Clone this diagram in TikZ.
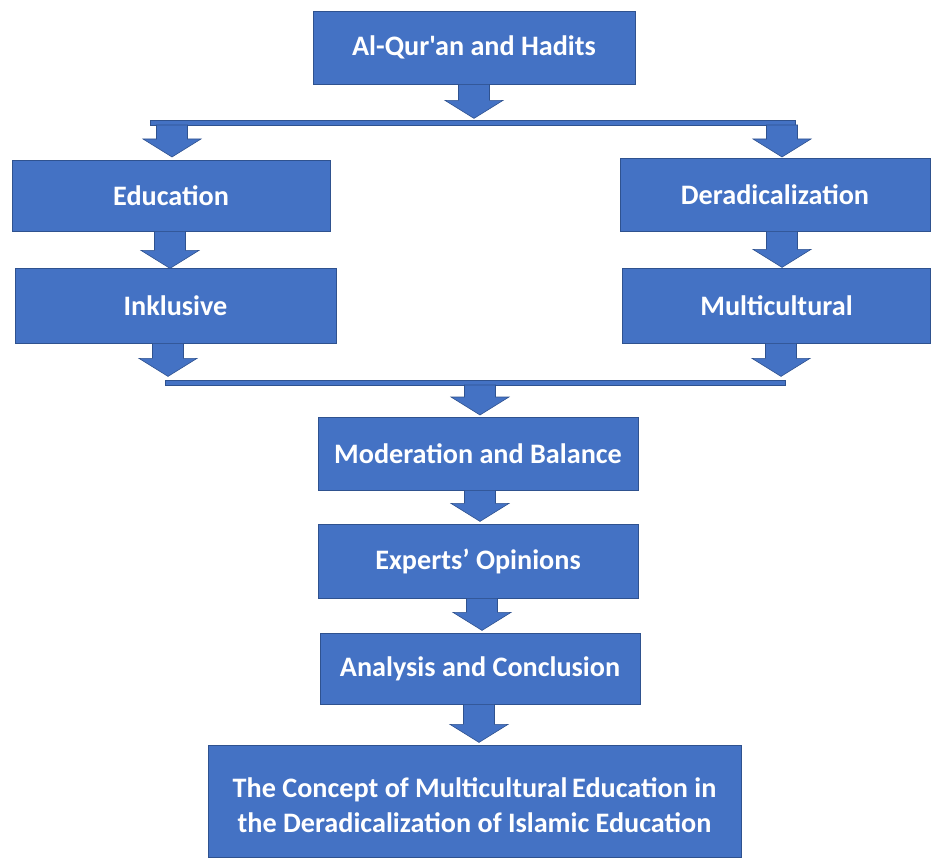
\documentclass[tikz,border=0pt]{standalone}
\usepackage{fontspec}
\setmainfont{Carlito}[Ligatures=TeXOff]
\definecolor{boxblue}{HTML}{4472C4}
\definecolor{edgeblue}{HTML}{2F528F}

% block arrow pointing down: #1 top centre, #2 total length
\newcommand{\blockarrow}[2]{%
  \draw[arrowshape] (#1) ++(-15.5,0) -- ++(0,#2-18) -- ++(-13.5,0)
    -- ++(29,18) -- ++(29,-18) -- ++(-13.5,0) -- ++(0,-#2+18) -- cycle;}

\begin{document}
\begin{tikzpicture}[x=1pt,y=-1pt]
\tikzstyle{every node}=[font=\fontsize{28.2}{35}\selectfont\bfseries]
\tikzstyle{box}=[draw=edgeblue,fill=boxblue,text=white,line width=0.8pt,inner sep=0pt]
\tikzstyle{arrowshape}=[draw=edgeblue,fill=boxblue,line width=0.6pt,line join=miter]
\tikzstyle{busline}=[draw=edgeblue,fill=boxblue,line width=0.6pt]

\useasboundingbox (0,0) rectangle (931,858);

%
% The boxes
%
\node[box,minimum width=322,minimum height=73] (quran) at (474,47.5) {Al-Qur'an and Hadits};

\node[box,minimum width=318,minimum height=71] (edu) at (171,195.5) {Education};
\node[box,minimum width=310,minimum height=73] (derad) at (775,194.5) {Deradicalization};

\node[box,minimum width=321,minimum height=75] (inkl) at (175.5,305.5) {Inklusive};
\node[box,minimum width=308,minimum height=75] (multi) at (776.5,305.5) {Multicultural};

\node[box,minimum width=320,minimum height=73] (moder) at (478,453.5) {Moderation and Balance};
\node[box,minimum width=320,minimum height=74] (expert) at (478,561) {Experts’ Opinions};
\node[box,minimum width=320,minimum height=71] (analys) at (480,668.5) {Analysis and Conclusion};

\node[box,minimum width=533,minimum height=112,align=center] (concept) at (474.5,801)
  {\rule{0pt}{29pt}The Concept of Multicultural\,Education in\\the Deradicalization of Islamic Education};

%
% The two bus lines
%
\coordinate (busL1) at (150,120);
\coordinate (busR1) at (795,125);
\coordinate (busL2) at (165,380);
\coordinate (busR2) at (785,385);
\draw[busline] (busL1) rectangle (busR1);
\draw[busline] (busL2) rectangle (busR2);

%
% The block arrows
%
\blockarrow{quran.south}{34}
\blockarrow{172,125}{32}
\blockarrow{782,125}{32}

\blockarrow{[xshift=-1]edu.south}{37}
\blockarrow{[xshift=7]derad.south}{36}

\blockarrow{[xshift=-7.5]inkl.south}{33}
\blockarrow{[xshift=4.5]multi.south}{33}

\blockarrow{480,385}{30}
\blockarrow{[xshift=2]moder.south}{31}
\blockarrow{[xshift=4]expert.south}{32}
\blockarrow{[xshift=-1]analys.south}{38}

\end{tikzpicture}
\end{document}
